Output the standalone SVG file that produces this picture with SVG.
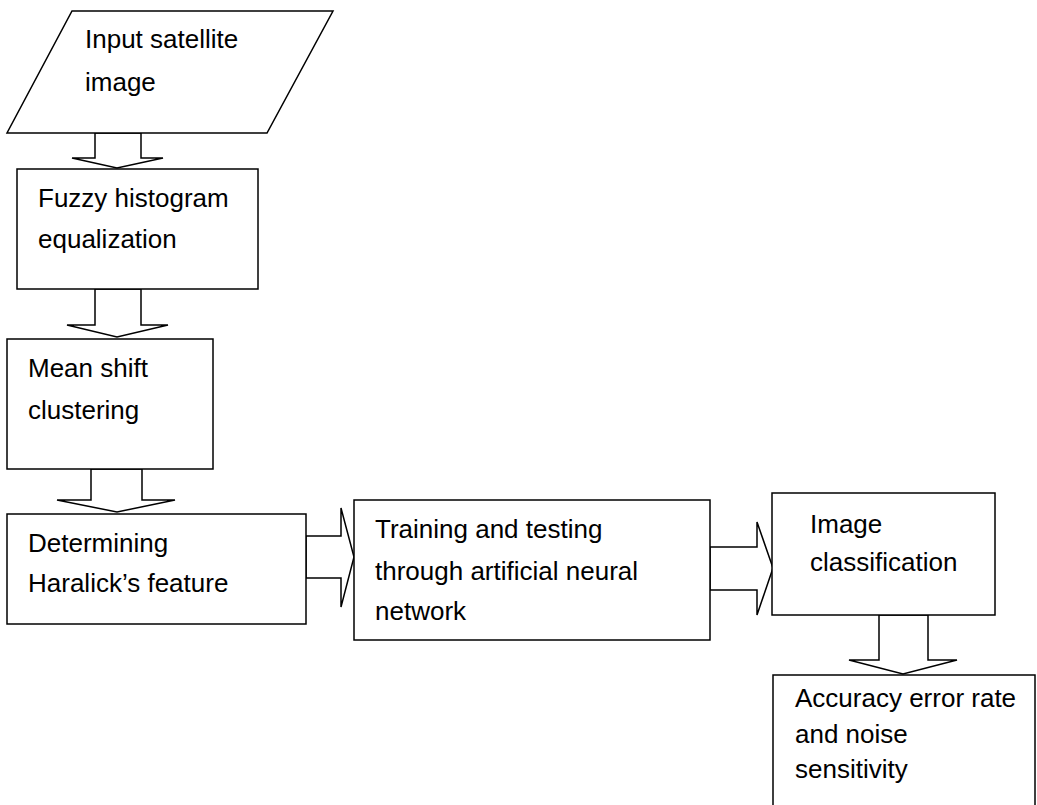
<svg xmlns="http://www.w3.org/2000/svg" width="1037" height="805" viewBox="0 0 1037 805">
<style>
.box{fill:#fff;stroke:#000;stroke-width:1.5}
.arr{fill:#fff;stroke:#000;stroke-width:1.5;stroke-linejoin:miter}
text{font-family:"Liberation Sans",Arial,sans-serif;font-size:26px;fill:#000}
</style>
<rect width="1037" height="805" fill="#fff"/>
<g id="connectors">
<polygon class="arr" points="95,133 141,133 141,158 163,158 117,168 72,158 95,158"/>
<polygon class="arr" points="95,289 141,289 141,325 168,325 117,337 67,325 95,325"/>
<polygon class="arr" points="91,469 142,469 142,500 175,500 117,512 57,500 91,500"/>
<polygon class="arr" points="306,536 341,536 341,508 354,557 341,607 341,578 306,578"/>
<polygon class="arr" points="710,547 757,547 757,522 773,568 757,615 757,590 710,590"/>
<polygon class="arr" points="879,615 928,615 928,660 957,660 903,674 849,660 879,660"/>
</g>
<g id="input">
<polygon class="box" points="72,11 333,11 267,133 7,133"/>
<text x="85" y="48">Input satellite</text>
<text x="85" y="91">image</text>
</g>
<g id="fuzzy">
<rect class="box" x="17" y="169" width="241" height="120"/>
<text x="38" y="207">Fuzzy histogram</text>
<text x="38" y="248">equalization</text>
</g>
<g id="meanshift">
<rect class="box" x="7" y="339" width="206" height="130"/>
<text x="28" y="377">Mean shift</text>
<text x="28" y="419">clustering</text>
</g>
<g id="haralick">
<rect class="box" x="7" y="514" width="299" height="110"/>
<text x="28" y="552">Determining</text>
<text x="28" y="592">Haralick’s feature</text>
</g>
<g id="training">
<rect class="box" x="354" y="500" width="356" height="140"/>
<text x="375" y="538">Training and testing</text>
<text x="375" y="580">through artificial neural</text>
<text x="375" y="620">network</text>
</g>
<g id="classification">
<rect class="box" x="772" y="493" width="223" height="122"/>
<text x="810" y="533">Image</text>
<text x="810" y="571">classification</text>
</g>
<g id="accuracy">
<rect class="box" x="773" y="675" width="262" height="140"/>
<text x="795" y="707">Accuracy error rate</text>
<text x="795" y="743">and noise</text>
<text x="795" y="778">sensitivity</text>
</g>
</svg>
